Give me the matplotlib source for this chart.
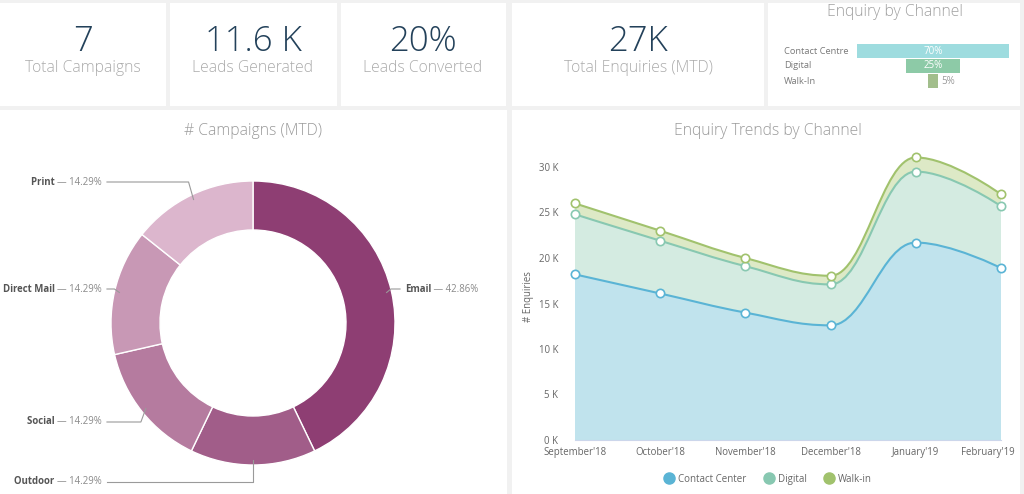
import matplotlib
matplotlib.use("Agg")
import matplotlib.pyplot as plt
from matplotlib.path import Path
from matplotlib.patches import PathPatch, Rectangle
from matplotlib.lines import Line2D
from matplotlib.ticker import FuncFormatter
import matplotlib.transforms as mtransforms
import numpy as np

plt.rcParams['font.family'] = ['Open Sans', 'DejaVu Sans']

# ---- data ----
kpi_values = ["7", "11.6 K", "20%", "27K"]
kpi_labels = ["Total Campaigns", "Leads Generated", "Leads Converted", "Total Enquiries (MTD)"]

channel_names = ["Contact Centre", "Digital", "Walk-In"]
channel_share = [70, 25, 5]

campaign_types = ["Email", "Outdoor", "Social", "Direct Mail", "Print"]
campaign_counts = [3, 1, 1, 1, 1]

months = ["September'18", "October'18", "November'18", "December'18", "January'19", "February'19"]
contact_center = [18200, 16100, 14000, 12600, 21700, 18900]
digital = [6600, 5800, 5100, 4500, 7800, 6800]
walk_in = [1200, 1100, 900, 950, 1550, 1300]

W, H = 1024, 494
fig = plt.figure(figsize=(W / 100, H / 100), dpi=100, facecolor='#f1f1f1')


def fx(px):
    return px / W


def fy(py):
    return 1 - py / H


def panel(x0, y0, x1, y1):
    fig.patches.append(Rectangle((fx(x0), fy(y1)), fx(x1) - fx(x0), fy(y0) - fy(y1),
                                 transform=fig.transFigure, facecolor='white',
                                 edgecolor='none', zorder=-10))


# panels
for x0, x1 in [(0, 166), (170, 337), (341, 506), (512, 764)]:
    panel(x0, 3, x1, 106)
panel(768, 3, 1020, 106)
panel(0, 110, 507, 494)
panel(512, 110, 1020, 494)

# ---- KPI tiles ----
num_color = '#23415a'
lab_color = '#ababab'
for cx, val, lab in zip([83, 253, 423, 638], kpi_values, kpi_labels):
    fig.text(fx(cx), fy(51), val, ha='center', va='baseline', fontsize=25,
             color=num_color, fontweight='light')
    fig.text(fx(cx), fy(72), lab, ha='center', va='baseline', fontsize=11.3,
             color=lab_color, fontweight='light')

# ---- Enquiry by Channel (funnel bars) ----
fig.text(fx(895), fy(16), "Enquiry by Channel", ha='center', va='baseline',
         fontsize=11.3, color='#a0a0a0', fontweight='light')
ax_f = fig.add_axes([fx(933 - 86.4), fy(88.5), 172.8 / W, 45 / H])
bar_colors = ['#9edcdf', '#8dcaa7', '#a2be8c']
rows = list(range(len(channel_names)))
lefts = [-s / 2 for s in channel_share]
ax_f.barh(rows, channel_share, left=lefts, height=0.93, color=bar_colors)
ax_f.set_xlim(-40, 40)
ax_f.set_ylim(2.5, -0.5)
ax_f.axis('off')
blend = mtransforms.blended_transform_factory(fig.transFigure, ax_f.transData)
for r, name, s in zip(rows, channel_names, channel_share):
    ax_f.text(fx(784), r, name, transform=blend, ha='left', va='center',
              fontsize=6.7, color='#7a7a7a')
    if s >= 15:
        ax_f.text(0, r, f"{s}%", ha='center', va='center', fontsize=7, color='white')
    else:
        ax_f.text(s / 2 + 1.2, r, f"{s}%", ha='left', va='center', fontsize=7,
                  color='#9a9a9a')

# ---- Donut ----
fig.text(fx(253), fy(135), "# Campaigns (MTD)", ha='center', va='baseline',
         fontsize=11.3, color='#9a9a9a', fontweight='light')
R = 142
cxp, cyp = 253, 323
ax_p = fig.add_axes([fx(cxp - R), fy(cyp + R), 2 * R / W, 2 * R / H])
pie_colors = ['#8e3e73', '#a15d89', '#b57b9f', '#c898b5', '#dcb6cd']
wedges, _ = ax_p.pie(campaign_counts, colors=pie_colors, startangle=90,
                     counterclock=False, radius=1,
                     wedgeprops=dict(width=0.345, edgecolor='white', linewidth=1))
ax_p.set_xlim(-1, 1)
ax_p.set_ylim(-1, 1)
ax_p.axis('off')

total = sum(campaign_counts)
label_y_px = {"Email": 289, "Outdoor": 482, "Social": 422, "Direct Mail": 289, "Print": 182}
line_col = '#9a9a9a'
lfs = 6.9
for w, name, cnt in zip(wedges, campaign_types, campaign_counts):
    ang = np.deg2rad((w.theta1 + w.theta2) / 2)
    ex, ey = 0.965 * np.cos(ang), 0.965 * np.sin(ang)
    ly = (cyp - label_y_px[name]) / R
    pct = f"\u2014 {cnt / total * 100:.2f}%"
    if ex > 0:
        lx = (405 - cxp) / R
        ax_p.plot([ex, ex + 0.03, lx - 0.035], [ey, ly, ly], color=line_col, lw=0.8,
                  clip_on=False)
        t = ax_p.text(lx, ly, name, ha='left', va='center', fontsize=lfs,
                      fontweight='bold', color='#555555', clip_on=False)
        ax_p.annotate(" " + pct, xy=(1, 0.5), xycoords=t, ha='left', va='center',
                      fontsize=lfs, color='#8a8a8a')
    else:
        lx = (102 - cxp) / R
        bx = ex - 0.035 if abs(ex) > 0.1 else ex
        ax_p.plot([ex, bx, lx + 0.035], [ey, ly, ly], color=line_col, lw=0.8,
                  clip_on=False)
        t = ax_p.text(lx, ly, pct, ha='right', va='center', fontsize=lfs,
                      color='#8a8a8a', clip_on=False)
        ax_p.annotate(name + " ", xy=(0, 0.5), xycoords=t, ha='right', va='center',
                      fontsize=lfs, fontweight='bold', color='#555555')


# ---- Enquiry trends (stacked area spline) ----
def spline(xs, ys, smoothing=1.5):
    n = len(xs)
    lc = [(x, y) for x, y in zip(xs, ys)]
    rc = [(x, y) for x, y in zip(xs, ys)]
    for i in range(1, n - 1):
        x, y = xs[i], ys[i]
        lx, ly = xs[i - 1], ys[i - 1]
        nx, ny = xs[i + 1], ys[i + 1]
        d = smoothing + 1
        lcx, lcy = (smoothing * x + lx) / d, (smoothing * y + ly) / d
        rcx, rcy = (smoothing * x + nx) / d, (smoothing * y + ny) / d
        if rcx != lcx:
            corr = ((rcy - lcy) * (rcx - x)) / (rcx - lcx) + y - rcy
            lcy += corr
            rcy += corr
        if lcy > ly and lcy > y:
            lcy = max(ly, y)
            rcy = 2 * y - lcy
        elif lcy < ly and lcy < y:
            lcy = min(ly, y)
            rcy = 2 * y - lcy
        if rcy > ny and rcy > y:
            rcy = max(ny, y)
            lcy = 2 * y - rcy
        elif rcy < ny and rcy < y:
            rcy = min(ny, y)
            lcy = 2 * y - rcy
        lc[i] = (lcx, lcy)
        rc[i] = (rcx, rcy)
    return lc, rc


def curve(xs, ys):
    lc, rc = spline(xs, ys)
    verts = [(xs[0], ys[0])]
    codes = [Path.MOVETO]
    for i in range(1, len(xs)):
        verts += [rc[i - 1], lc[i], (xs[i], ys[i])]
        codes += [Path.CURVE4] * 3
    return verts, codes, lc, rc


fig.text(fx(768), fy(135), "Enquiry Trends by Channel", ha='center', va='baseline',
         fontsize=11.3, color='#9a9a9a', fontweight='light')
ax = fig.add_axes([fx(575), fy(440), (1001 - 575) / W, (440 - 148.8) / H])
ax.set_facecolor('none')
xs = list(range(len(months)))
series = [("Contact Center", contact_center, '#5ab4d5', '#c0e3ed'),
          ("Digital", digital, '#88c8b1', '#d4ebe1'),
          ("Walk-in", walk_in, '#a1c26d', '#dde9c6')]
base = [0] * len(xs)
tops = []
for name, vals, lcol, fcol in series:
    top = [b + v for b, v in zip(base, vals)]
    tv, tc, _, _ = curve(xs, top)
    bv, bc, blc, brc = curve(xs, base)
    verts = list(tv) + [(xs[-1], base[-1])]
    codes = list(tc) + [Path.LINETO]
    for i in range(len(xs) - 1, 0, -1):
        verts += [blc[i], brc[i - 1], (xs[i - 1], base[i - 1])]
        codes += [Path.CURVE4] * 3
    verts.append(verts[0])
    codes.append(Path.CLOSEPOLY)
    ax.add_patch(PathPatch(Path(verts, codes), facecolor=fcol, edgecolor='none',
                           zorder=1, clip_on=False))
    tops.append((top, tv, tc, lcol))
    base = top
for top, tv, tc, lcol in tops:
    ax.add_patch(PathPatch(Path(tv, tc), facecolor='none', edgecolor=lcol, lw=1.5,
                           zorder=3, clip_on=False))
    ax.plot(xs, top, 'o', ms=6, mfc='white', mec=lcol, mew=1.2, zorder=4, clip_on=False)

ax.set_xlim(0, len(xs) - 1)
ax.set_ylim(0, 32000)
ax.set_yticks(range(0, 30001, 5000))
ax.yaxis.set_major_formatter(FuncFormatter(lambda v, p: f"{v / 1000:.0f} K"))
ax.set_xticks(xs)
ax.set_xticklabels(months)
ax.tick_params(axis='both', length=0, labelsize=6.9, labelcolor='#666666')
ax.tick_params(axis='y', pad=12)
ax.tick_params(axis='x', pad=5)
# keep the last month label inside the panel
last = ax.get_xticklabels()[-1]
last.set_horizontalalignment('right')
last.set_transform(last.get_transform() +
                   mtransforms.ScaledTranslation(14 / 100, 0, fig.dpi_scale_trans))
for s in ['top', 'right', 'left']:
    ax.spines[s].set_visible(False)
ax.spines['bottom'].set_color('#ccd6eb')
ax.spines['bottom'].set_linewidth(0.8)
ax.set_ylabel("# Enquiries", fontsize=6.9, color='#666666')
ax.yaxis.set_label_coords((534 - 575) / (1001 - 575), (440 - 297) / (440 - 148.8))

handles = [Line2D([], [], marker='o', ls='none', ms=8, mfc=c, mec=c)
           for _, _, c, _ in series]
fig.legend(handles, [s[0] for s in series], loc='center', ncol=3, frameon=False,
           bbox_to_anchor=(fx(768), fy(479)), fontsize=7, labelcolor='#666666',
           handletextpad=0.4, columnspacing=1.8, handlelength=1.0)

fig.savefig("out.png", dpi=100, facecolor=fig.get_facecolor())
